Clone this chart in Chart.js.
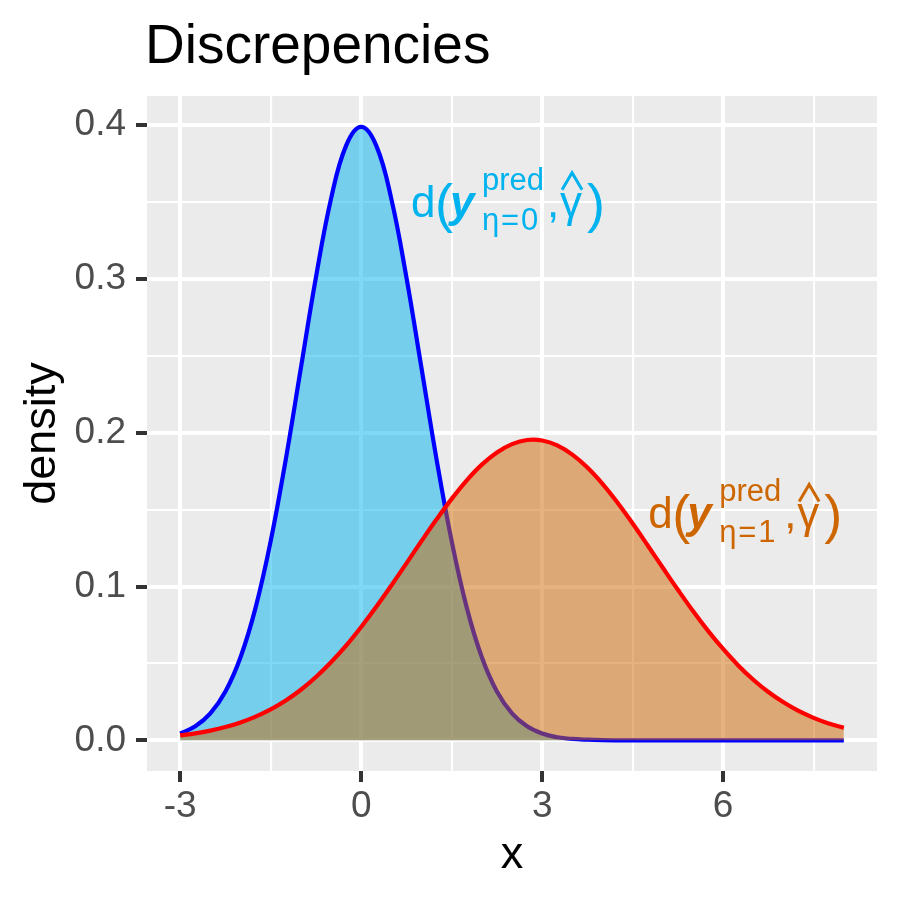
<!DOCTYPE html>
<html>
<head>
<meta charset="utf-8">
<script src="https://cdn.jsdelivr.net/npm/chart.js@4"></script>
<style>
  html, body { margin: 0; padding: 0; background: #ffffff; }
  #wrap { width: 900px; height: 900px; }
</style>
</head>
<body>
<div id="wrap"><canvas id="c" width="900" height="900"></canvas></div>
<script>
// ---------- data ----------
const xValues = [-3, -2.75, -2.5, -2.25, -2, -1.75, -1.5, -1.25, -1, -0.75, -0.5, -0.25,
  0, 0.25, 0.5, 0.75, 1, 1.25, 1.5, 1.75, 2, 2.25, 2.5, 2.75, 3, 3.25, 3.5, 3.75,
  4, 4.25, 4.5, 4.75, 5, 5.25, 5.5, 5.75, 6, 6.25, 6.5, 6.75, 7, 7.25, 7.5, 7.75, 8];
const densityEta0 = [0.0044, 0.0091, 0.0175, 0.0317, 0.0540, 0.0863, 0.1295, 0.1826, 0.2420, 0.3011, 0.3521, 0.3867,
  0.3989, 0.3867, 0.3521, 0.3011, 0.2420, 0.1826, 0.1295, 0.0863, 0.0540, 0.0317, 0.0175, 0.0091, 0.0044, 0.0020, 0.0009, 0.0004,
  0.0001, 0, 0, 0, 0, 0, 0, 0, 0, 0, 0, 0, 0, 0, 0, 0, 0];
const densityEta1 = [0.0032, 0.0045, 0.0063, 0.0086, 0.0116, 0.0154, 0.0201, 0.0259, 0.0329, 0.0412, 0.0508, 0.0616,
  0.0737, 0.0868, 0.1007, 0.1151, 0.1296, 0.1437, 0.1570, 0.1691, 0.1793, 0.1872, 0.1926, 0.1953, 0.1950, 0.1918, 0.1858, 0.1774,
  0.1668, 0.1545, 0.1410, 0.1267, 0.1122, 0.0979, 0.0841, 0.0712, 0.0594, 0.0487, 0.0394, 0.0314, 0.0247, 0.0191, 0.0146, 0.0109, 0.0081];
const xMajorTicks = [-3, 0, 3, 6];
const xMinorTicks = [-1.5, 1.5, 4.5, 7.5];
const yMajorTicks = [0.0, 0.1, 0.2, 0.3, 0.4];
const yMinorTicks = [0.05, 0.15, 0.25, 0.35];
const titleText = 'Discrepencies';
const xTitle = 'x';
const yTitle = 'density';

// ---------- helpers ----------
const FONT = '"Liberation Sans", Arial, Helvetica, sans-serif';
const toPoints = (ys) => xValues.map((x, i) => ({ x: x, y: ys[i] }));
const isMajor = (arr, v) => arr.some(m => Math.abs(m - v) < 1e-9);
const tickSetter = (major, minor) => (scale) => {
  scale.ticks = major.concat(minor).sort((a, b) => a - b).map(v => ({ value: v }));
};

const panelBg = {
  id: 'panelBg',
  beforeDraw(chart) {
    const { ctx, chartArea: a } = chart;
    ctx.save();
    ctx.fillStyle = '#EBEBEB';
    ctx.fillRect(a.left, a.top, a.right - a.left, a.bottom - a.top);
    ctx.restore();
  }
};

function drawMathLabel(ctx, x0, B, color, subDigit) {
  ctx.save();
  ctx.fillStyle = color;
  ctx.strokeStyle = color;
  ctx.textAlign = 'left';
  ctx.textBaseline = 'alphabetic';
  ctx.font = '44px ' + FONT;
  ctx.fillText('d', x0 - 2, B);
  ctx.font = '54px ' + FONT;
  ctx.fillText('(', x0 + 22, B + 5);
  ctx.font = 'italic bold 44px ' + FONT;
  ctx.fillText('y', x0 + 37, B);
  ctx.font = '31px ' + FONT;
  ctx.fillText('pred', x0 + 69, B - 27);
  ctx.fillText('\u03B7', x0 + 69, B + 13.5);
  ctx.fillText('=', x0 + 88, B + 13.5);
  ctx.fillText(subDigit, x0 + 108, B + 13.5);
  ctx.font = '44px ' + FONT;
  ctx.fillText(',', x0 + 134, B);
  ctx.fillText('\u03B3', x0 + 147, B);
  ctx.lineWidth = 3;
  ctx.lineJoin = 'miter';
  ctx.beginPath();
  ctx.moveTo(x0 + 149, B - 27);
  ctx.lineTo(x0 + 159, B - 44);
  ctx.lineTo(x0 + 169, B - 27);
  ctx.stroke();
  ctx.font = '54px ' + FONT;
  ctx.fillText(')', x0 + 174, B + 5);
  ctx.restore();
}

const annotations = [
  { x: 0.86, y: 0.3405, color: '#00B2EE', sub: '0' },
  { x: 4.79, y: 0.1378, color: '#CD6600', sub: '1' }
];

const textPlugin = {
  id: 'texts',
  afterDatasetsDraw(chart) {
    const { ctx, scales } = chart;
    annotations.forEach(a => {
      drawMathLabel(ctx, scales.x.getPixelForValue(a.x), scales.y.getPixelForValue(a.y), a.color, a.sub);
    });
  },
  afterDraw(chart) {
    const { ctx, chartArea: a } = chart;
    ctx.save();
    ctx.fillStyle = '#000000';
    ctx.textBaseline = 'alphabetic';
    ctx.font = '55px ' + FONT;
    ctx.textAlign = 'left';
    ctx.fillText(titleText, a.left - 2, 63);
    ctx.font = '45px ' + FONT;
    ctx.textAlign = 'center';
    ctx.fillText(xTitle, (a.left + a.right) / 2, 868);
    ctx.translate(55, (a.top + a.bottom) / 2);
    ctx.rotate(-Math.PI / 2);
    ctx.fillText(yTitle, 0, 0);
    ctx.restore();
  }
};

const gridCommon = (major) => ({
  color: '#FFFFFF',
  lineWidth: (c) => (c.tick && isMajor(major, c.tick.value)) ? 4 : 2.1,
  tickColor: (c) => (c.tick && isMajor(major, c.tick.value)) ? '#333333' : 'rgba(0,0,0,0)',
  tickWidth: 4,
  tickLength: 11,
  drawTicks: true
});

new Chart(document.getElementById('c'), {
  type: 'line',
  data: {
    datasets: [
      {
        label: 'eta1',
        data: toPoints(densityEta1),
        borderColor: '#FF0000',
        backgroundColor: 'rgba(205,102,0,0.5)',
        borderWidth: 4.2,
        fill: 'origin',
        pointRadius: 0,
        tension: 0.4
      },
      {
        label: 'eta0',
        data: toPoints(densityEta0),
        borderColor: '#0000FF',
        backgroundColor: 'rgba(0,178,238,0.5)',
        borderWidth: 4.2,
        fill: 'origin',
        pointRadius: 0,
        tension: 0.4
      }
    ]
  },
  options: {
    responsive: false,
    animation: false,
    devicePixelRatio: 1,
    layout: { padding: { left: 0, right: 23, top: 96, bottom: 0 } },
    plugins: {
      legend: { display: false },
      tooltip: { enabled: false },
      title: { display: false },
      filler: { drawTime: 'beforeDatasetDraw' }
    },
    scales: {
      x: {
        type: 'linear',
        min: -3.55,
        max: 8.55,
        afterBuildTicks: tickSetter(xMajorTicks, xMinorTicks),
        afterFit: (s) => { s.height = 129; },
        border: { display: false },
        grid: gridCommon(xMajorTicks),
        ticks: {
          autoSkip: false,
          maxRotation: 0,
          padding: 3,
          color: '#4D4D4D',
          font: { family: FONT, size: 37 },
          callback: (v) => isMajor(xMajorTicks, v) ? String(v) : ''
        }
      },
      y: {
        type: 'linear',
        min: -0.01995,
        max: 0.419,
        afterBuildTicks: tickSetter(yMajorTicks, yMinorTicks),
        afterFit: (s) => { s.width = 147; },
        border: { display: false },
        grid: gridCommon(yMajorTicks),
        ticks: {
          autoSkip: false,
          padding: 10,
          color: '#4D4D4D',
          font: { family: FONT, size: 37 },
          callback: (v) => isMajor(yMajorTicks, v) ? v.toFixed(1) : ''
        }
      }
    }
  },
  plugins: [panelBg, textPlugin]
});
</script>
</body>
</html>
